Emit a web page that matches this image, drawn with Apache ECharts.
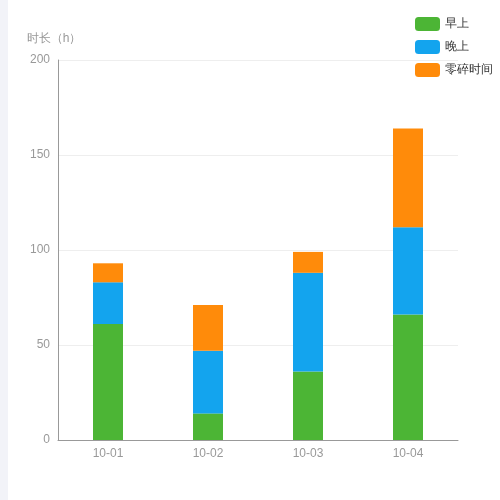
<!DOCTYPE html>
<html>
<head>
<meta charset="utf-8">
<script src="https://cdn.jsdelivr.net/npm/echarts@6/dist/echarts.min.js"></script>
<style>
  html, body { margin: 0; padding: 0; background: #f2f3f8; }
  #chart { position: absolute; left: 8px; top: 0; width: 492px; height: 500px; background: #fff; }
</style>
</head>
<body>
<div id="chart"></div>
<script>
var days = ['10-01', '10-02', '10-03', '10-04']
var morning = [61, 14, 36, 66]
var evening = [22, 33, 52, 46]
var scraps = [10, 24, 11, 52]
var seriesNames = ['早上', '晚上', '零碎时间']
var colors = ['#4cb535', '#13a4ee', '#ff8b0a']

var option = {
    color: colors,
    legend: {
        orient: 'vertical',
        right: 2,
        top: 12,
        icon: 'roundRect',
        itemWidth: 25,
        itemHeight: 14,
        itemGap: 9,
        textStyle: { color: '#333', fontSize: 12 },
        data: seriesNames
    },
    grid: {
        left: 50,
        right: 42,
        top: 60,
        bottom: 60
    },
    xAxis: {
        type: 'category',
        data: days,
        axisTick: { show: false },
        axisLine: { lineStyle: { color: '#999' } },
        axisLabel: { color: '#999', fontSize: 12, margin: 8 }
    },
    yAxis: {
        type: 'value',
        name: '时长（h）',
        nameTextStyle: { color: '#999', fontSize: 12, padding: [0, 8, 0, 0] },
        min: 0,
        max: 200,
        interval: 50,
        axisLine: { show: true, lineStyle: { color: '#999' } },
        axisTick: { show: false },
        axisLabel: { color: '#999', fontSize: 12 },
        splitLine: { lineStyle: { color: '#eee' } }
    },
    series: [
        { name: seriesNames[0], type: 'bar', stack: 'total', barWidth: 30, data: morning },
        { name: seriesNames[1], type: 'bar', stack: 'total', barWidth: 30, data: evening },
        { name: seriesNames[2], type: 'bar', stack: 'total', barWidth: 30, data: scraps }
    ]
};

let chart = echarts.init(document.getElementById('chart'));
chart.setOption(option);
</script>
</body>
</html>
